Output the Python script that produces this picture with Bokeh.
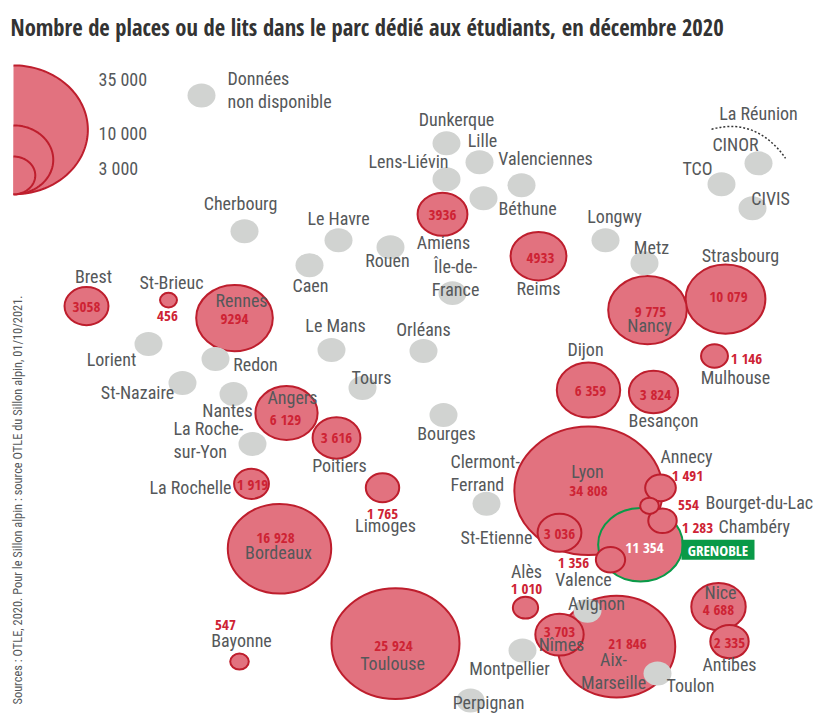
import numpy as np
from bokeh.plotting import figure
from bokeh.embed import file_html
from bokeh.resources import INLINE
from bokeh.core.properties import value
from bokeh.models import Range1d, ColumnDataSource

TITLE = "Nombre de places ou de lits dans le parc dédié aux étudiants, en décembre 2020"
SOURCE = "Sources : OTLE, 2020. Pour le Sillon alpin : source OTLE du Sillon alpin, 01/10/2021."

# cities with a known number of places
city = ["Lyon","Toulouse","Aix-Marseille","Bordeaux","Grenoble","Strasbourg","Nancy","Rennes","Dijon","Angers",
        "Reims","Nice","Amiens","Besançon","Nîmes","Poitiers","Brest","St-Etienne","Antibes","La Rochelle",
        "Limoges","Annecy","Valence","Chambéry","Mulhouse","Alès","Bourget-du-Lac","Bayonne","St-Brieuc"]
places = [34808,25924,21846,16928,11354,10079,9775,9294,6359,6129,
          4933,4688,3936,3824,3703,3616,3058,3036,2335,1919,
          1765,1491,1356,1283,1146,1010,554,547,456]
map_x = [588,395,616,279,640,725,647,234,588,286,
         538,718,442,653,559,336,86,559,729,251,
         382,660,610,662,714,525,649,239,168]
map_y = [490,643,646,548,544,298,309,317,389,412,
         255,606,213,391,634,437,305,532,641,483,
         487,487,559,520,355,607,505,661,299]

# cities without data
na_x = [201,244,338,390,309,331,148,215,182,233,252,362,423,452,443,486,522,470,587,657,446,479,446,521,483,605,644,758,721,752]
na_y = [94,230,239,246,264,349,343,358,382,393,443,387,350,292,414,503,650,700,610,673,142,161,178,184,197,239,262,162,183,207]

legend_values = [35000,10000,3000]
legend_labels = ["35 000","10 000","3 000"]

# name labels
names = ["Cherbourg","Le Havre","Rouen","Caen","Brest","St-Brieuc","Rennes","Lorient","Redon","St-Nazaire","Nantes",
         "Angers","Poitiers","La Rochelle","Limoges","Bordeaux","Bayonne","Toulouse","Le Mans","Orléans","Tours","Bourges",
         "St-Etienne","Lyon","Alès","Valence","Montpellier","Nîmes","Avignon","Aix-\nMarseille","Perpignan","Toulon","Nice",
         "Antibes","Annecy","Besançon","Mulhouse","Dijon","Nancy","Metz","Strasbourg","Longwy","Reims","Amiens","Île-de-\nFrance",
         "Béthune","Valenciennes","Lille","Dunkerque","Lens-Liévin","La Réunion","CINOR","TCO","CIVIS"]
names_x = [240,338,387,310,93,171,241,111,255,137,227,292,339,190,385,278,241,392,335,423,371,446,496,587,526,583,509,561,596,613,488,690,720,
           729,686,663,735,585,649,651,740,614,538,443,455,527,545,482,456,408,758,735,697,770]
names_y = [203,218,260,285,276,282,300,359,364,393,411,398,466,488,526,553,641,664,325,329,377,434,538,472,572,580,669,645,604,671,703,686,593,
           665,457,421,377,349,325,247,255,216,288,242,278,208,158,140,119,161,113,144,168,198]

left_names = ["Données\nnon disponible","La Roche-\nsur-Yon","Clermont-\nFerrand","Bourget-du-Lac","Chambéry"]
left_x = [227,173,450,705,718]
left_y = [90,440,473,503,527]

value_text = ["3936","4933","3058","456","9294","6 129","3 616","1 919","1 765","16 928","547","25 924","34 808","3 036",
              "1 491","554","1 283","1 356","1 010","3 703","21 846","4 688","2 335","6 359","3 824","10 079","9 775","1 146"]
value_x = [442,540,86,167,234,285,336,252,382,275,225,393,588,559,687,688,697,573,526,559,627,718,729,590,655,728,650,746]
value_y = [214,257,306,315,318,418,436,483,512,536,624,644,489,532,474,504,526,561,587,630,642,608,641,389,393,295,310,357]

RED, DARK, GREEN, GREY, TEXT, VAL = "#E2727F", "#BE1E2D", "#0A9A48", "#D1D3D1", "#55585A", "#CE2334"
FONT = value("Roboto Condensed")
BOLD = value("Open Sans Condensed")
KX, KY = 0.795, 0.69

p = figure(width=816, height=705, margin=(9, 0, 0, 0), output_backend="svg", toolbar_location=None,
           x_range=Range1d(0, 816), y_range=Range1d(714, 41), min_border=0,
           title=TITLE)
p.title.text_font = "Open Sans Condensed"
p.title.text_font_size = "22.6px"
p.title.text_font_style = "bold"
p.title.text_color = "#333333"
p.title.offset = 10
p.title.standoff = 0
p.axis.visible = False
p.grid.visible = False
p.outline_line_color = None

# legend half ellipses, largest first, sitting on a common base
LEG_X, LEG_BASE = 13, 193
theta = np.linspace(-np.pi/2, np.pi/2, 80)
for v in legend_values:
    rx, ry = KX*np.sqrt(v)/2, KY*np.sqrt(v)/2
    lx, ly = LEG_X + rx*np.cos(theta), LEG_BASE - ry + ry*np.sin(theta)
    p.patch(lx, ly, fill_color=RED, line_color=None)
    p.line(lx, ly, line_color=DARK, line_width=2)
p.text([98,98,98],[79,133,168],text=legend_labels,text_font=FONT,text_font_size="18px",
       text_color=TEXT,text_baseline="middle",text_align="left",y_offset=-1)

root = np.sqrt(np.array(places, dtype=float))
src = ColumnDataSource(dict(x=map_x, y=map_y, w=KX*root, h=KY*root,
                            lc=[GREEN if c == "Grenoble" else DARK for c in city]))
p.ellipse("x","y",width="w",height="h",source=src,fill_color=RED,line_color="lc",line_width=2)
p.ellipse(na_x,na_y,width=28,height=24,fill_color=GREY,line_color=None)

# La Réunion arc
p.bezier(x0=[711],y0=[128],x1=[785],y1=[157],cx0=[745],cy0=[118],cx1=[770],cy1=[135],
         line_color="#333333",line_width=1.5,line_dash="2 2")

p.text(names_x,names_y,text=names,text_font=FONT,text_font_size="18px",text_color=TEXT,
       text_align="center",text_baseline="middle",text_line_height=1.1,y_offset=-1)
p.text(left_x,left_y,text=left_names,text_font=FONT,text_font_size="18px",text_color=TEXT,
       text_align="left",text_baseline="middle",text_line_height=1.1,y_offset=-1)
p.text(value_x,value_y,text=value_text,text_font=BOLD,text_font_size="15px",
       text_color=VAL,text_align="center",text_baseline="middle")

# Grenoble
p.text([644],[546],text=["11 354"],text_font=BOLD,text_font_size="15px",
       text_color="#FFFFFF",text_align="center",text_baseline="middle")
p.quad(left=[681],right=[754],top=[539],bottom=[559],fill_color=GREEN,line_color=None)
p.text([717.5],[549],text=["GRENOBLE"],text_font=BOLD,text_font_size="15px",
       text_color="#FFFFFF",text_align="center",text_baseline="middle")

# source
p.text([17],[704],text=[SOURCE],angle=[np.pi/2],text_font=FONT,text_font_size="12.4px",
       text_color=TEXT,text_align="left",text_baseline="middle")

open("out.html","w").write(file_html(p, INLINE))
